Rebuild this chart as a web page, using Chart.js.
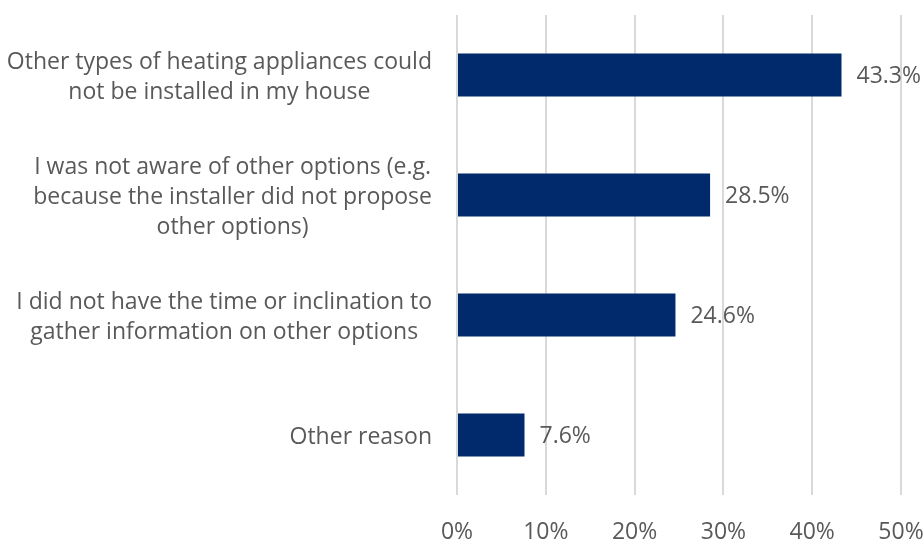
<!DOCTYPE html>
<html>
<head>
<meta charset="utf-8">
<script src="https://cdn.jsdelivr.net/npm/chart.js@4.4.1/dist/chart.umd.min.js"></script>
<style>
  html, body { margin: 0; padding: 0; background: #fff; }
  #wrap { width: 924px; height: 541px; }
</style>
</head>
<body>
<div id="wrap"><canvas id="barChart"></canvas></div>
<script>
const categories = [
    ['Other types of heating appliances could', 'not be installed in my house'],
    ['I was not aware of other options (e.g.', 'because the installer did not propose', 'other options)'],
    ['I did not have the time or inclination to', 'gather information on other options'],
    ['Other reason'],
];
const shares = [43.3, 28.5, 24.6, 7.6];
const xTicks = [0, 10, 20, 30, 40, 50];

const FONT = '"Open Sans", "Noto Sans", sans-serif';
const TEXT = '#595959';

// category labels: block right aligned, lines centred inside the block
const categoryLabels = {
    id: 'categoryLabels',
    afterDraw(chart) {
        const ctx = chart.ctx;
        const y = chart.scales.y;
        const right = chart.chartArea.left - 25;
        ctx.save();
        ctx.font = '23px ' + FONT;
        ctx.fillStyle = TEXT;
        ctx.textAlign = 'center';
        ctx.textBaseline = 'middle';
        categories.forEach((lines, i) => {
            const y0 = y.getPixelForTick(i) + 2;
            const w = Math.max(...lines.map(l => ctx.measureText(l).width));
            const cx = right - w / 2;
            lines.forEach((line, j) => {
                ctx.fillText(line, cx, y0 + (j - (lines.length - 1) / 2) * 30);
            });
        });
        ctx.restore();
    }
};

const valueLabels = {
    id: 'valueLabels',
    afterDatasetsDraw(chart) {
        const ctx = chart.ctx;
        const meta = chart.getDatasetMeta(0);
        ctx.save();
        ctx.font = '23px ' + FONT;
        ctx.fillStyle = TEXT;
        ctx.textAlign = 'left';
        ctx.textBaseline = 'middle';
        meta.data.forEach((bar, i) => {
            ctx.fillText(shares[i].toFixed(1) + '%', bar.x + 15, bar.y + 1);
        });
        ctx.restore();
    }
};

new Chart(document.getElementById('barChart').getContext('2d'), {
    type: 'bar',
    data: {
        labels: categories,
        datasets: [{
            data: shares,
            backgroundColor: '#002a6b',
            borderWidth: 0,
            barPercentage: 0.36,
            categoryPercentage: 1,
        }],
    },
    options: {
        indexAxis: 'y',
        responsive: true,
        maintainAspectRatio: false,
        animation: false,
        layout: { padding: { left: 457, right: 23, top: 15, bottom: 0 } },
        plugins: { legend: { display: false }, tooltip: { enabled: false } },
        scales: {
            x: {
                min: xTicks[0],
                max: xTicks[xTicks.length - 1],
                afterBuildTicks(axis) { axis.ticks = xTicks.map(v => ({ value: v })); },
                afterFit(axis) {
                    axis.height = 46;
                    axis.paddingLeft = 0;
                    axis.paddingRight = 0;
                },
                grid: { color: '#d9d9d9', lineWidth: 2, drawTicks: false },
                border: { display: false },
                ticks: {
                    padding: 24,
                    color: TEXT,
                    font: { family: FONT, size: 23 },
                    callback: v => v + '%',
                },
            },
            y: {
                afterFit(axis) { axis.width = 0; },
                grid: { display: false },
                border: { display: false },
                ticks: { display: false },
            },
        },
    },
    plugins: [categoryLabels, valueLabels],
});
</script>
</body>
</html>
